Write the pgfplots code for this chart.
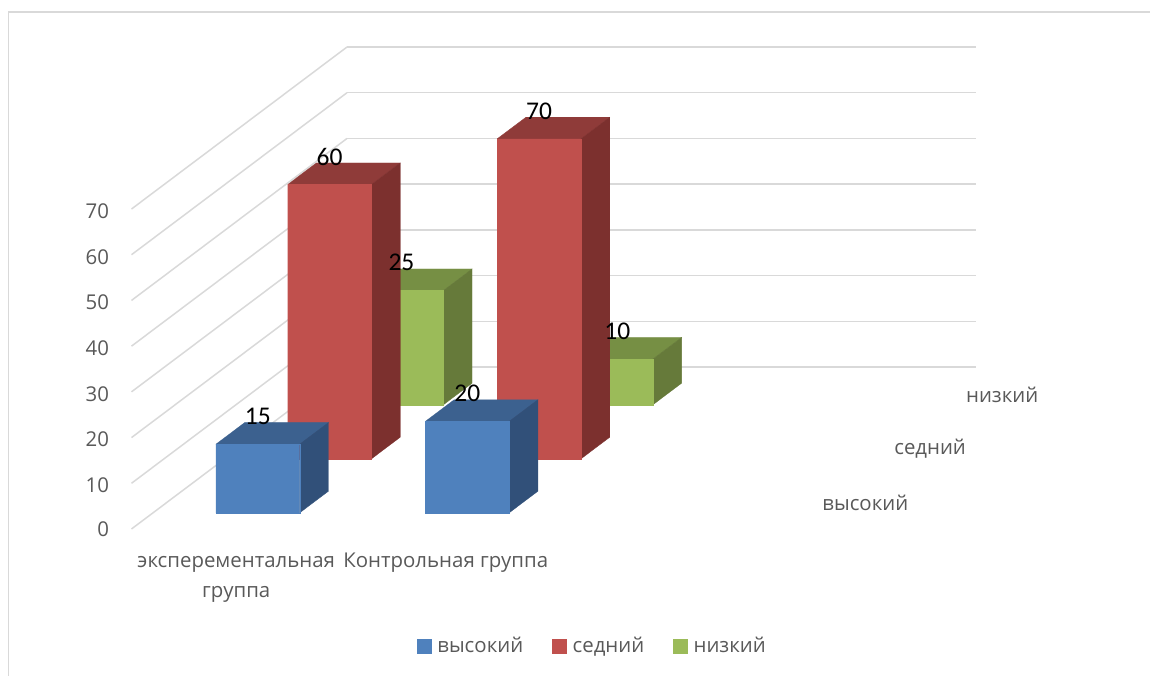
\documentclass[border=0pt]{standalone}
\usepackage{pgfplots}
\pgfplotsset{compat=1.18}
\usepackage{fontspec}
\setmainfont{Open Sans}
\newfontfamily\labelfont{Carlito}
\definecolor{txt}{HTML}{595959}
\definecolor{gridc}{HTML}{D9D9D9}
\definecolor{bF}{HTML}{4F81BD}\definecolor{bT}{HTML}{3C618F}\definecolor{bS}{HTML}{315079}
\definecolor{rF}{HTML}{C0504D}\definecolor{rT}{HTML}{8F3B39}\definecolor{rS}{HTML}{7C302E}
\definecolor{gF}{HTML}{9BBB59}\definecolor{gT}{HTML}{768F44}\definecolor{gS}{HTML}{667A3A}
% #1 x0, #2 x1, #3 y0, #4 y1, #5 value, #6 colour prefix
\newcommand\barbox[6]{%
  \addplot3[draw=#6T,line width=0.3pt,fill=#6T,forget plot] coordinates {(#1,#3,#5) (#2,#3,#5) (#2,#4,#5) (#1,#4,#5) (#1,#3,#5)};
  \addplot3[draw=#6S,line width=0.3pt,fill=#6S,forget plot] coordinates {(#2,#3,0) (#2,#4,0) (#2,#4,#5) (#2,#3,#5) (#2,#3,0)};
  \addplot3[draw=#6F,line width=0.3pt,fill=#6F,forget plot] coordinates {(#1,#3,0) (#2,#3,0) (#2,#3,#5) (#1,#3,#5) (#1,#3,0)};
}
\tikzset{dl/.style={font=\labelfont\fontsize{25.5}{27}\selectfont,text=black}}
\begin{document}
\begin{tikzpicture}[x=1pt,y=1pt]
\useasboundingbox (0,0) rectangle (1150,676);
\draw[gridc,line width=1.5pt] (8.5,0) -- (8.5,664) -- (1150,664);
\begin{axis}[
  at={(131.5pt,147pt)},anchor=origin,
  x={(209.5pt,0pt)},y={(71.83pt,54pt)},z={(0pt,4.571pt)},
  xmin=0,xmax=3,ymin=0,ymax=3,zmin=0,zmax=70,
  clip=false,
  axis line style={draw=none},
  tick style={draw=none},
  major tick length=0pt,
  font=\fontsize{20.4}{30}\selectfont,
  tick label style={text=txt},
  /pgf/number format/assume math mode=true,
  ztick={0,10,20,30,40,50,60,70},
  zticklabel style={xshift=-19pt,yshift=3pt},
  zmajorgrids,
  major grid style={draw=gridc,line width=1.5pt},
  xtick={0.5,1.5},
  xticklabels={{\strut эксперементальная\\группа},{\strut Контрольная группа}},
  xticklabel style={align=center,anchor=north,yshift=-14pt},
  ytick={0.5,1.5,2.5},
  yticklabels={высокий,седний,низкий},
  yticklabel pos=lower,
  yticklabel style={anchor=west,xshift=23pt,yshift=-1pt},
  legend columns=3,
  legend cell align=left,
  legend style={at={(axis cs:2.2,0,0)},anchor=center,draw=none,fill=none,yshift=-117pt,
     font=\fontsize{20.4}{24}\selectfont\color{txt},
     /tikz/every even column/.style={column sep=27pt},
     /tikz/every odd column/.style={column sep=4pt}},
  legend image code/.code={\fill[#1] (0pt,-7pt) rectangle (14pt,7pt);},
]
\addlegendimage{bF}\addlegendentry{высокий}
\addlegendimage{rF}\addlegendentry{седний}
\addlegendimage{gF}\addlegendentry{низкий}
\barbox{0.3}{0.7}{2.3}{2.7}{25}{g}
\barbox{1.3}{1.7}{2.3}{2.7}{10}{g}
\barbox{0.3}{0.7}{1.3}{1.7}{60}{r}
\barbox{1.3}{1.7}{1.3}{1.7}{70}{r}
\barbox{0.3}{0.7}{0.3}{0.7}{15}{b}
\barbox{1.3}{1.7}{0.3}{0.7}{20}{b}
\node[dl] at (axis cs:0.5,0.3,21.1) {15};
\node[dl] at (axis cs:1.5,0.3,26.1) {20};
\node[dl] at (axis cs:0.5,1.3,66.1) {60};
\node[dl] at (axis cs:1.5,1.3,76.1) {70};
\node[dl] at (axis cs:0.5,2.3,31.1) {25};
\node[dl] at (axis cs:1.53,2.3,16.1) {10};
\end{axis}
\end{tikzpicture}
\end{document}
